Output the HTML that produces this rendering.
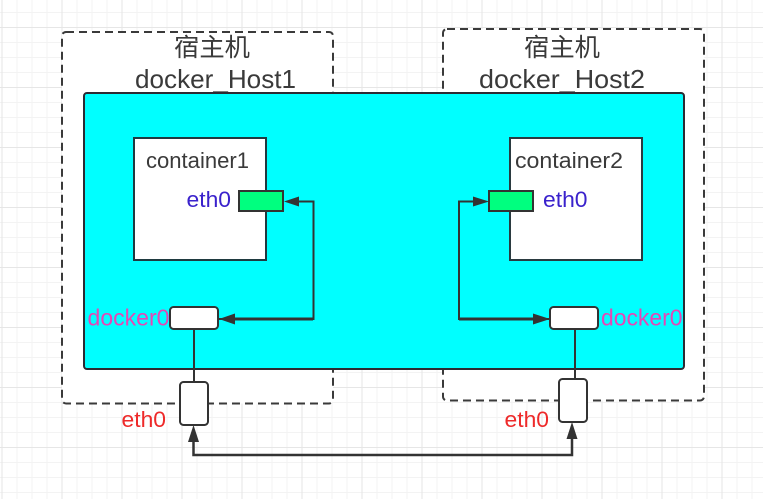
<!DOCTYPE html>
<html>
<head>
<meta charset="utf-8">
<style>
html,body{margin:0;padding:0;background:#fff;width:763px;height:499px;overflow:hidden}
svg{display:block}
text{font-family:"Liberation Sans","Noto Sans CJK SC",sans-serif}
</style>
</head>
<body>
<svg width="763" height="499" viewBox="0 0 763 499" xmlns="http://www.w3.org/2000/svg">
<defs>
<pattern id="minor" x="1.5" y="12" width="15" height="15" patternUnits="userSpaceOnUse">
<path d="M0.5 0V15M0 0.5H15" stroke="#f3f3f3" stroke-width="1" fill="none"/>
</pattern>
<pattern id="major" x="1.5" y="27" width="60" height="60" patternUnits="userSpaceOnUse">
<path d="M0.5 0V60M0 0.5H60" stroke="#e6e6e6" stroke-width="1" fill="none"/>
</pattern>
</defs>
<rect width="763" height="499" fill="#fff"/>
<rect width="763" height="499" fill="url(#minor)"/>
<rect width="763" height="499" fill="url(#major)"/>

<rect x="62" y="32" width="271" height="371.5" rx="4" fill="#fff" stroke="#3a3a3a" stroke-width="2" stroke-dasharray="8 5"/>
<rect x="443" y="29" width="261" height="371.5" rx="4" fill="#fff" stroke="#3a3a3a" stroke-width="2" stroke-dasharray="8 5"/>

<text x="174" y="56" font-size="25" fill="#3a3a3a" textLength="76" lengthAdjust="spacingAndGlyphs">宿主机</text>
<text x="524" y="56" font-size="25" fill="#3a3a3a" textLength="76" lengthAdjust="spacingAndGlyphs">宿主机</text>
<text x="135" y="88" font-size="26" fill="#3a3a3a" textLength="161" lengthAdjust="spacingAndGlyphs">docker_Host1</text>
<text x="479" y="88" font-size="26" fill="#3a3a3a" textLength="166" lengthAdjust="spacingAndGlyphs">docker_Host2</text>

<rect x="84" y="93" width="600" height="276" rx="3" fill="#00ffff" stroke="#2b2b33" stroke-width="2"/>

<rect x="134" y="138" width="132" height="122" fill="#fff" stroke="#1f3a40" stroke-width="2"/>
<rect x="510" y="138" width="132" height="122" fill="#fff" stroke="#2a3a40" stroke-width="2"/>

<text x="146" y="168" font-size="22" fill="#3a3a3a" textLength="103" lengthAdjust="spacingAndGlyphs">container1</text>
<text x="515" y="168" font-size="22" fill="#3a3a3a" textLength="108" lengthAdjust="spacingAndGlyphs">container2</text>

<text x="186.5" y="207" font-size="22.5" fill="#3a22cc" textLength="44.5" lengthAdjust="spacingAndGlyphs">eth0</text>
<text x="543" y="207" font-size="22.5" fill="#3a22cc" textLength="44.5" lengthAdjust="spacingAndGlyphs">eth0</text>

<rect x="239" y="191" width="44" height="20" fill="#00ff7f" stroke="#333" stroke-width="2"/>
<rect x="489" y="191" width="44" height="20" fill="#00ff7f" stroke="#333" stroke-width="2"/>

<path d="M219 319H313.5V201.5H296" fill="none" stroke="#333" stroke-width="2"/>
<path d="M232 319H313" fill="none" stroke="#333" stroke-width="3"/>
<path d="M550 319H459V201.5H475" fill="none" stroke="#333" stroke-width="2"/>
<path d="M459 319H538" fill="none" stroke="#333" stroke-width="3"/>
<polygon points="284,201.5 299,196.5 299,206.5" fill="#333"/>
<polygon points="489,201.5 473,196.5 473,206.5" fill="#333"/>
<polygon points="219,319 235,313.5 235,324.5" fill="#333"/>
<polygon points="550,319 533,313.5 533,324.5" fill="#333"/>

<path d="M194 329V382M575 329V379" fill="none" stroke="#333" stroke-width="2"/>

<rect x="170" y="307" width="48" height="22" rx="3.5" fill="#fff" stroke="#333" stroke-width="2"/>
<rect x="550" y="307" width="48" height="22" rx="3.5" fill="#fff" stroke="#333" stroke-width="2"/>

<text x="87.5" y="325.5" font-size="23" fill="#e646b6" textLength="82" lengthAdjust="spacingAndGlyphs">docker0</text>
<text x="601" y="325.5" font-size="23" fill="#e646b6" textLength="81.5" lengthAdjust="spacingAndGlyphs">docker0</text>

<rect x="180" y="382" width="28" height="43" rx="3.5" fill="#fff" stroke="#333" stroke-width="2"/>
<rect x="559" y="379" width="28" height="43" rx="3.5" fill="#fff" stroke="#333" stroke-width="2"/>

<path d="M193.5 438V455H572V436" fill="none" stroke="#333" stroke-width="2.5"/>
<polygon points="193.5,425 188,442 199,442" fill="#333"/>
<polygon points="572,422 566.5,439 577.5,439" fill="#333"/>

<text x="121.5" y="427" font-size="22.5" fill="#ee2a2a" textLength="44.5" lengthAdjust="spacingAndGlyphs">eth0</text>
<text x="504.5" y="427" font-size="22.5" fill="#ee2a2a" textLength="44.5" lengthAdjust="spacingAndGlyphs">eth0</text>
</svg>
</body>
</html>
